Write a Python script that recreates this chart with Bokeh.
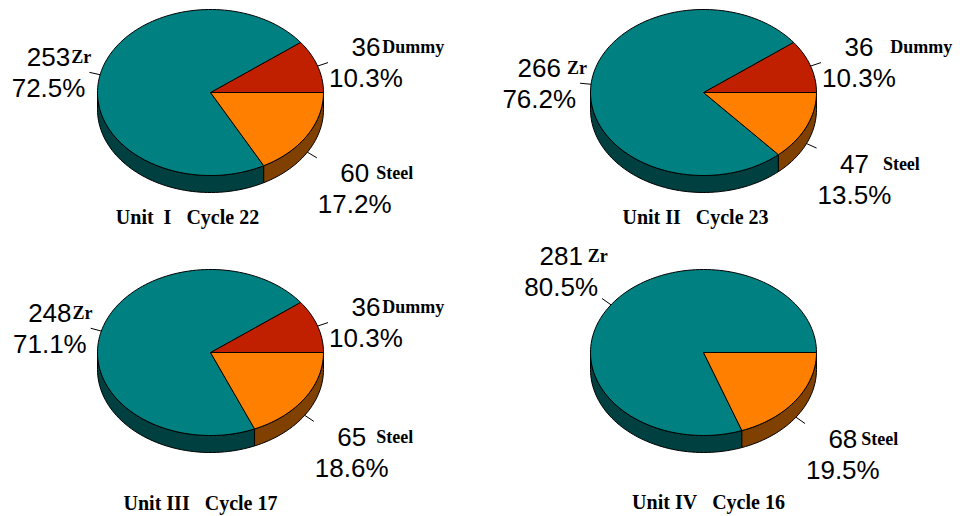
import numpy as np
from bokeh.plotting import figure
from bokeh.models import Range1d
from bokeh.core.properties import value
from bokeh.embed import file_html
from bokeh.resources import INLINE

# ---- data -------------------------------------------------------------
materials = ["Dummy", "Zr", "Steel"]
unit_titles = [
    "Unit\u00a0\u00a0I\u00a0\u00a0\u00a0Cycle 22",
    "Unit II\u00a0\u00a0\u00a0Cycle 23",
    "Unit III\u00a0\u00a0\u00a0Cycle 17",
    "Unit IV\u00a0\u00a0\u00a0Cycle 16",
]
counts_unit1 = [36, 253, 60]
counts_unit2 = [36, 266, 47]
counts_unit3 = [36, 248, 65]
counts_unit4 = [0, 281, 68]
unit_counts = [counts_unit1, counts_unit2, counts_unit3, counts_unit4]

# ---- layout / style ---------------------------------------------------
W, H = 962, 516
centers = [(210, 92), (703, 92), (210, 352), (703, 352)]
title_pos = [(187, 216), (695, 216), (200, 502), (708, 501)]
name_gap = [
    {"Dummy": 2, "Zr": 1, "Steel": 7},
    {"Dummy": 17, "Zr": 6, "Steel": 14},
    {"Dummy": 2, "Zr": 1, "Steel": 10},
    {"Dummy": 2, "Zr": 5, "Steel": 4},
]
RX, RY, DEPTH = 113, 83, 17
top_color = {"Dummy": "#C02000", "Zr": "#008080", "Steel": "#FF8000"}
side_color = {"Dummy": "#601000", "Zr": "#004040", "Steel": "#804000"}
NUM_FS = 26
LINE_GAP = 31
LEADER = 11

SANS = {c: 0.556 for c in "0123456789"}
SANS.update({".": 0.278, "%": 0.889})


def sans_width(s, size=NUM_FS):
    return sum(SANS.get(c, 0.556) for c in s) * size


def arc(cx, cy, a0, a1, dy=0.0):
    n = max(2, int(abs(a1 - a0) / 2) + 2)
    t = np.radians(np.linspace(a0, a1, n))
    return cx + RX * np.cos(t), cy - RY * np.sin(t) + dy


p = figure(width=W, height=H, x_range=Range1d(0, W), y_range=Range1d(H, 0),
           output_backend="svg", toolbar_location=None, min_border=0)
p.axis.visible = False
p.grid.visible = False
p.outline_line_color = None
p.background_fill_color = "white"
p.border_fill_color = "white"

side_xs, side_ys, side_fill = [], [], []
top_xs, top_ys, top_fill = [], [], []
lead_x0, lead_y0, lead_x1, lead_y1 = [], [], [], []
num_x, num_y, num_t = [], [], []
pct_x, pct_y, pct_t = [], [], []
nm_x, nm_y, nm_t = [], [], []

for k, counts in enumerate(unit_counts):
    cx, cy = centers[k]
    total = float(sum(counts))
    start = 0.0
    for mat, v in zip(materials, counts):
        if v <= 0:
            continue
        sweep = 360.0 * v / total
        a0, a1 = start, start + sweep
        start = a1

        # top face wedge
        ax, ay = arc(cx, cy, a0, a1)
        top_xs.append(np.concatenate([[cx], ax, [cx]]).tolist())
        top_ys.append(np.concatenate([[cy], ay, [cy]]).tolist())
        top_fill.append(top_color[mat])

        # visible rim (front half, 180..360 deg)
        s0, s1 = max(a0, 180.0), min(a1, 360.0)
        if s1 > s0:
            ux, uy = arc(cx, cy, s0, s1)
            bx, by = arc(cx, cy, s1, s0, DEPTH)
            side_xs.append(np.concatenate([ux, bx]).tolist())
            side_ys.append(np.concatenate([uy, by]).tolist())
            side_fill.append(side_color[mat])

        # leader line at mid angle
        m = np.radians((a0 + a1) / 2)
        cm, sm = np.cos(m), np.sin(m)
        x0 = cx + RX * cm
        y0 = cy - RY * sm + (DEPTH if sm < 0 else 0)
        x1, y1 = x0 + LEADER * cm, y0 - LEADER * sm
        lead_x0.append(x0); lead_y0.append(y0)
        lead_x1.append(x1); lead_y1.append(y1)

        # value / percent label block
        num = f"{v}"
        pct = f"{100 * v / total:.1f}%"
        w = max(sans_width(num), sans_width(pct))
        bx_c = x1 + 1 + w / 2 if cm >= 0 else x1 - 4 - w / 2
        if sm > 0.4:
            by_c = y1 - LINE_GAP + 4
        elif sm < -0.35:
            by_c = y1 + LINE_GAP
        else:
            by_c = y1
        l1, l2 = by_c - LINE_GAP / 2, by_c + LINE_GAP / 2
        num_x.append(bx_c); num_y.append(l1); num_t.append(num)
        pct_x.append(bx_c); pct_y.append(l2); pct_t.append(pct)
        nm_x.append(bx_c + sans_width(num) / 2 + name_gap[k][mat])
        nm_y.append(l1)
        nm_t.append(mat)

p.patches(side_xs, side_ys, fill_color=side_fill, line_color="black",
          line_width=1, line_join="round")
p.patches(top_xs, top_ys, fill_color=top_fill, line_color="black",
          line_width=1, line_join="round")
p.segment(lead_x0, lead_y0, lead_x1, lead_y1, line_color="black", line_width=1)

p.text(num_x, num_y, text=num_t, text_font=value("Liberation Sans"),
       text_font_size=f"{NUM_FS}px", text_align="center",
       text_baseline="middle", text_color="black")
p.text(pct_x, pct_y, text=pct_t, text_font=value("Liberation Sans"),
       text_font_size=f"{NUM_FS}px", text_align="center",
       text_baseline="middle", text_color="black")
p.text(nm_x, nm_y, text=nm_t, text_font=value("Liberation Serif"),
       text_font_style="bold", text_font_size="18px", text_align="left",
       text_baseline="middle", text_color="black")
p.text([t[0] for t in title_pos], [t[1] for t in title_pos], text=unit_titles,
       text_font=value("Liberation Serif"), text_font_style="bold",
       text_font_size="20px", text_align="center", text_baseline="middle",
       text_color="black")

open("out.html", "w").write(file_html(p, INLINE))
